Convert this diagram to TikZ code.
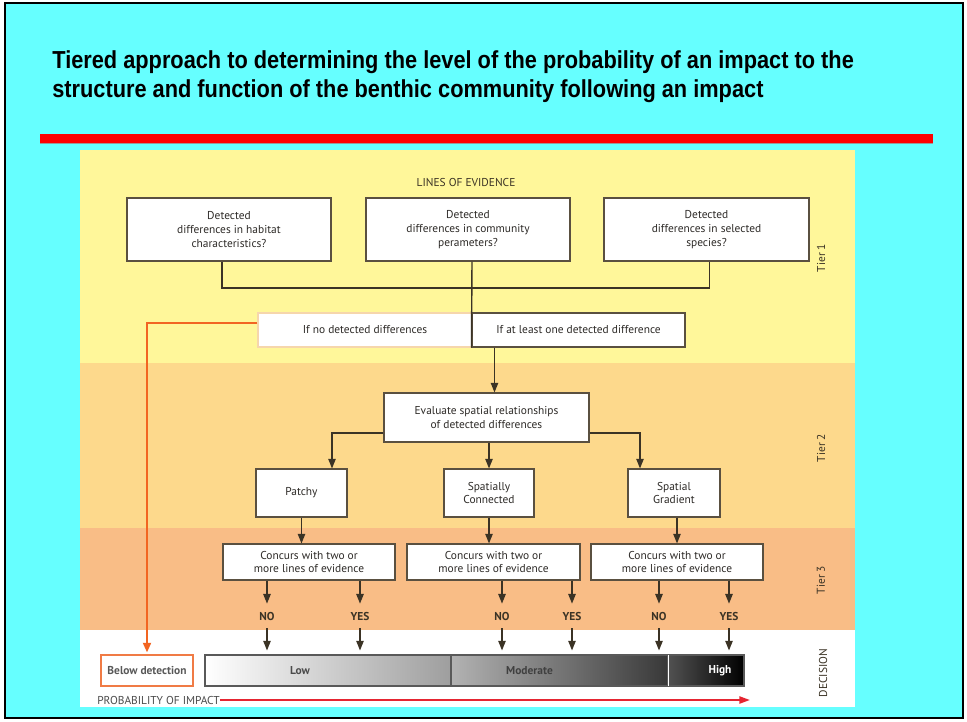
\documentclass[tikz,border=0pt]{standalone}
\usepackage{fontspec}
\usetikzlibrary{arrows.meta,positioning}
\setmainfont{PT Sans}
\newfontfamily\titlefont[FakeStretch=0.885]{Liberation Sans}
\newdimen\unitpx \unitpx=0.02cm
\newcommand\diagfont{\fontsize{6.5}{7.9}\selectfont}
\definecolor{slidecyan}{HTML}{66FFFF}
\definecolor{tierone}{HTML}{FFF79A}
\definecolor{tiertwo}{HTML}{FDD98C}
\definecolor{tierthree}{HTML}{F9BD86}
\definecolor{lineink}{HTML}{3B3325}
\definecolor{boxink}{HTML}{5A5040}
\definecolor{nodiffink}{HTML}{F6D6AC}
\definecolor{belowink}{HTML}{F07B45}
\definecolor{flowline}{HTML}{F26522}
\definecolor{probred}{HTML}{E52531}
\definecolor{textink}{HTML}{2E2B28}

\begin{document}
\begin{tikzpicture}[
		x=0.02cm, y=-0.02cm,
		every node/.style={font=\diagfont, text=textink},
		evbox/.style={draw=boxink, fill=white, line width=0.6pt, align=center, inner sep=0pt},
		barpart/.style={draw=black!65, line width=0.6pt, minimum height=31\unitpx, inner sep=0pt},
		tierlabel/.style={rotate=90, text=lineink},
		answer/.style={font=\diagfont\bfseries, text=lineink, minimum height=24\unitpx, inner sep=0pt},
		link/.style={draw=lineink, line width=0.8pt},
		linkarrow/.style={link, -{Triangle[width=4.2pt,length=5.5pt]}}
	]
  \useasboundingbox (0,0) rectangle (967,721);
  % slide and tier bands
  \fill[white] (0,0) rectangle (967,721);
  \fill[slidecyan] (5,3) rectangle (963,718);
  \draw[black, line width=1.2pt] (5,3) rectangle (963,718);
  \fill[black!40] (40,142) rectangle (933,144);
  \fill[red] (40,134) rectangle (933,142.5);
  \fill[tierone] (80,150) rectangle (855,363);
  \fill[tiertwo] (80,363) rectangle (855,528);
  \fill[tierthree] (80,528) rectangle (855,630);
  \fill[white] (80,630) rectangle (855,707);

  \node (title a) [anchor=base west, inner sep=0pt, font=\titlefont\bfseries\fontsize{14}{17}\selectfont, text=black] at (52,68) {Tiered approach to determining the level of the probability of an impact to the};
  \node (title b) [anchor=base west, inner sep=0pt, font=\titlefont\bfseries\fontsize{14}{17}\selectfont, text=black] at (52,97) {structure and function of the benthic community following an impact};

  \node (tier1) [tierlabel] at (821,258) {Tier 1};
  \node (tier2) [tierlabel] at (821,448) {Tier 2};
  \node (tier3) [tierlabel] at (821,580) {Tier 3};
  \node (decision) [tierlabel] at (823,673) {DECISION};

  % tier 1
  \node (lines) [text=lineink] at (466,182) {LINES OF EVIDENCE};
  \node (habitat) [evbox, minimum width=204\unitpx, minimum height=63\unitpx] at (229,229.5) {Detected\\differences in habitat\\characteristics?};
  \node (community) [evbox, minimum width=204\unitpx, minimum height=63\unitpx] at (468,229.5) {Detected\\differences in community\\perameters?};
  \node (species) [evbox, minimum width=205\unitpx, minimum height=63\unitpx] at (706.5,229.5) {Detected\\differences in selected\\species?};
  \coordinate (join) at (472,288);
  \node (nodiff) [evbox, draw=nodiffink, minimum width=214\unitpx, minimum height=34\unitpx] at (365,330) {If no detected differences};
  \node (onediff) [evbox, minimum width=213\unitpx, minimum height=34\unitpx] at (578.5,330) {If at least one detected difference};
  \draw[link] ([xshift=-7\unitpx]habitat.south) |- (join) -| ([xshift=3\unitpx]species.south);
  \draw[link] ([xshift=4\unitpx]community.south) -- (onediff.south west);

  % tier 2
  \node (evaluate) [evbox, minimum width=205\unitpx, minimum height=49\unitpx] at (486.5,417.5) {Evaluate spatial relationships\\of detected differences};
  \node (patchy) [evbox, minimum width=91\unitpx, minimum height=48\unitpx] at (301.5,493) {Patchy};
  \node (connected) [evbox, minimum width=90\unitpx, minimum height=48\unitpx] at (489,493) {Spatially\\Connected};
  \node (gradient) [evbox, minimum width=92\unitpx, minimum height=48\unitpx] at (674,493) {Spatial\\Gradient};
  \coordinate (eval in) at ([xshift=8\unitpx]evaluate.north);
  \draw[linkarrow] (onediff.south -| eval in) -- (eval in);
  \draw[linkarrow] ([yshift=-15.5\unitpx]evaluate.west) -| ([xshift=30.5\unitpx]patchy.north);
  \draw[linkarrow] (evaluate.south -| connected.north) -- (connected.north);
  \draw[linkarrow] ([yshift=-15.5\unitpx]evaluate.east) -| ([xshift=-34\unitpx]gradient.north);

  % tier 3
  \node (concurs1) [evbox, minimum width=172\unitpx, minimum height=36\unitpx] at (309,562) {Concurs with two or\\more lines of evidence};
  \node (concurs2) [evbox, minimum width=173\unitpx, minimum height=36\unitpx] at (493.5,562) {Concurs with two or\\more lines of evidence};
  \node (concurs3) [evbox, minimum width=172\unitpx, minimum height=36\unitpx] at (677,562) {Concurs with two or\\more lines of evidence};
  \draw[linkarrow] (patchy.south) -- (patchy.south |- concurs1.north);
  \draw[linkarrow] (connected.south) -- (connected.south |- concurs2.north);
  \draw[linkarrow] (concurs3.north |- gradient.south) -- (concurs3.north);

  \node (no1) [answer] at (267,616) {NO};
  \node (yes1) [answer] at (360,616) {YES};
  \node (no2) [answer] at (502,616) {NO};
  \node (yes2) [answer] at (572,616) {YES};
  \node (no3) [answer] at (659,616) {NO};
  \node (yes3) [answer] at (729,616) {YES};

  % decision
  \node (low) [barpart, minimum width=246\unitpx, left color=white, right color=black!38] at (328,670.5) {};
  \node (moderate) [barpart, minimum width=217\unitpx, left color=black!30, right color=black!78] at (559.5,670.5) {};
  \node (high) [barpart, minimum width=76\unitpx, left color=black!68, right color=black] at (706,670.5) {};
  \draw[white, line width=0.6pt] ([yshift=-0.5\unitpx]moderate.north east) -- ([yshift=0.5\unitpx]moderate.south east);
  \node (low text) [font=\diagfont\bfseries, text=black!70] at ([xshift=-28\unitpx]low.center) {Low};
  \node (moderate text) [font=\diagfont\bfseries, text=black!75] at ([xshift=-30\unitpx]moderate.center) {Moderate};
  \node (high text) [font=\diagfont\bfseries, text=white] at ([xshift=14\unitpx]high.center) {High};
  \node (below) [draw=belowink, fill=white, line width=0.6pt, minimum width=92\unitpx, minimum height=31\unitpx, inner sep=0pt, font=\diagfont\bfseries, text=black!65] at (147,670.5) {Below detection};

  \draw[linkarrow] (concurs1.south -| no1) -- (no1);
  \draw[linkarrow] (no1) -- (no1 |- low.north) [shorten >=4\unitpx];
  \draw[linkarrow] (concurs1.south -| yes1) -- (yes1);
  \draw[linkarrow] (yes1) -- (yes1 |- low.north) [shorten >=4\unitpx];
  \draw[linkarrow] (concurs2.south -| no2) -- (no2);
  \draw[linkarrow] (no2) -- (no2 |- low.north) [shorten >=4\unitpx];
  \draw[linkarrow] (concurs2.south -| yes2) -- (yes2);
  \draw[linkarrow] (yes2) -- (yes2 |- low.north) [shorten >=4\unitpx];
  \draw[linkarrow] (concurs3.south -| no3) -- (no3);
  \draw[linkarrow] (no3) -- (no3 |- low.north) [shorten >=4\unitpx];
  \draw[linkarrow] (concurs3.south -| yes3) -- (yes3);
  \draw[linkarrow] (yes3) -- (yes3 |- low.north) [shorten >=4\unitpx];

  \draw[flowline, line width=1.2pt, -{Triangle[width=4.5pt,length=5.5pt]}] ([yshift=7\unitpx]nodiff.west) -| (below.north) [shorten >=2\unitpx];

  \node (prob) [anchor=west, inner sep=0pt, text=black!70] at (97,700) {PROBABILITY OF IMPACT};
  \coordinate (prob end) at (750,700);
  \draw[probred, line width=1.1pt, -{Triangle[width=4pt,length=6pt]}] (prob.east) -- (prob end);
\end{tikzpicture}
\end{document}
